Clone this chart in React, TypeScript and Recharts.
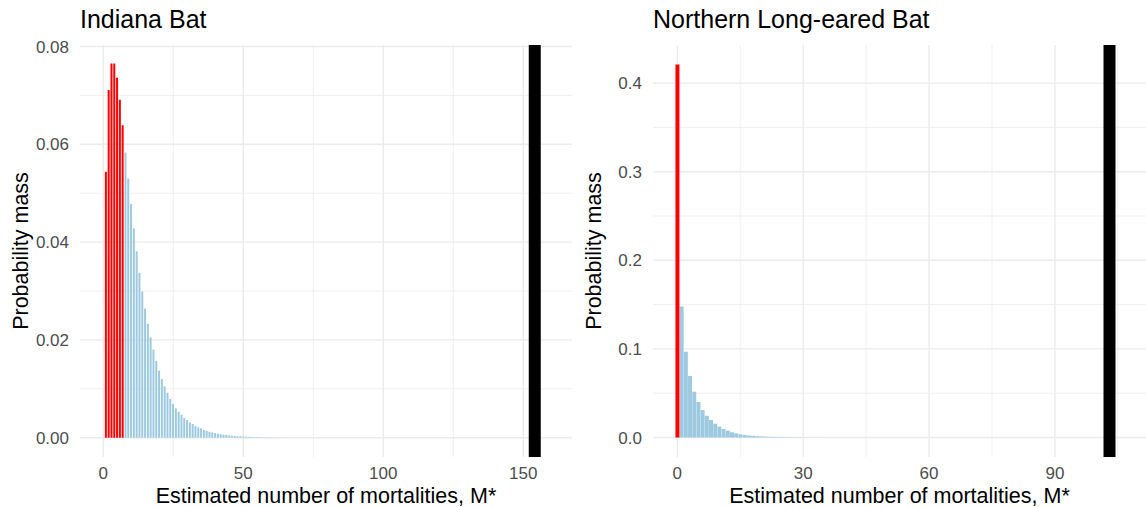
import React from 'react';
import { ComposedChart, Bar, XAxis, YAxis, CartesianGrid, ReferenceLine, Label } from 'recharts';

// ---------- Indiana Bat ----------
const indianaRedStart = 1;
const indianaRed = [0.0544, 0.0711, 0.0765, 0.0765, 0.0736, 0.0691, 0.0639];
const indianaBlueStart = 8;
const indianaBlue = [
  0.0583, 0.053, 0.0478, 0.0428, 0.0381, 0.0337, 0.0299, 0.0264, 0.0233, 0.0205,
  0.018, 0.0157, 0.0137, 0.012, 0.0105, 0.0092, 0.0079, 0.0069, 0.006, 0.0053,
  0.0047, 0.004, 0.0036, 0.0031, 0.0028, 0.0024, 0.0021, 0.0019, 0.0016, 0.0014,
  0.0012, 0.0011, 0.00095, 0.00083, 0.00072, 0.00063, 0.00055, 0.00048, 0.00042, 0.00036,
  0.00031, 0.00027, 0.00024, 0.00021, 0.00018, 0.00016, 0.00014, 0.00012, 0.0001, 0.00009,
  0.00008, 0.00007, 0.00006, 0.00005, 0.00004, 0.00003, 0.00003, 0.00002,
];
const indianaObserved = 154.1;
const indianaXTicks = [0, 50, 100, 150];
const indianaXMinor = [25, 75, 125];
const indianaYTicks = [0, 0.02, 0.04, 0.06, 0.08];
const indianaYMinor = [0.01, 0.03, 0.05, 0.07];
const indianaXDomain = [-8.32, 167.4];
const indianaYDomain = [-0.00395, 0.0803];

// ---------- Northern Long-eared Bat ----------
const nlebRedStart = 0;
const nlebRed = [0.421];
const nlebBlueStart = 1;
const nlebBlue = [
  0.148, 0.0968, 0.0694, 0.0517, 0.0401, 0.031, 0.0246, 0.0198, 0.0156, 0.0122,
  0.0096, 0.0077, 0.0059, 0.0047, 0.0036, 0.0029, 0.0023, 0.0019, 0.0015, 0.0012,
  0.001, 0.0008, 0.00065, 0.00052, 0.00042, 0.00034, 0.00027, 0.00022, 0.00018, 0.00014,
  0.00011, 0.00009, 0.00007, 0.00006, 0.00005,
];
const nlebObserved = 103;
const nlebXTicks = [0, 30, 60, 90];
const nlebXMinor = [15, 45, 75, 105];
const nlebYTicks = [0, 0.1, 0.2, 0.3, 0.4];
const nlebYMinor = [0.05, 0.15, 0.25, 0.35];
const nlebXDomain = [-5.79, 111.7];
const nlebYDomain = [-0.022, 0.443];

type Row = { m: number; red: number; blue: number };

function buildRows(redStart: number, red: number[], blueStart: number, blue: number[]): Row[] {
  const rows: Row[] = [];
  red.forEach((v, i) => rows.push({ m: redStart + i, red: v, blue: 0 }));
  blue.forEach((v, i) => rows.push({ m: blueStart + i, red: 0, blue: v }));
  rows.sort((a, b) => a.m - b.m);
  return rows;
}

const FONT = '"Liberation Sans", Arial, Helvetica, sans-serif';
const GRID = '#EBEBEB';

type PanelProps = {
  title: string;
  rows: Row[];
  xDomain: number[];
  yDomain: number[];
  xTicks: number[];
  xMinor: number[];
  yTicks: number[];
  yMinor: number[];
  observed: number;
  yDigits: number;
  left: number;
  rightMargin: number;
};

function Panel(p: PanelProps) {
  return (
    <div style={{ position: 'absolute', left: p.left, top: 0, width: 573, height: 507 }}>
      <div
        style={{
          position: 'absolute',
          left: 80,
          top: 7,
          fontSize: 25,
          lineHeight: '25px',
          color: '#000',
          fontFamily: FONT,
          whiteSpace: 'nowrap',
        }}
      >
        {p.title}
      </div>
      <ComposedChart
        width={573}
        height={507}
        data={p.rows}
        margin={{ top: 45, right: p.rightMargin, bottom: 0, left: 0 }}
        barCategoryGap="6%"
        style={{ fontFamily: FONT }}
      >
        <CartesianGrid
          stroke={GRID}
          strokeWidth={0.8}
          horizontalValues={p.yMinor}
          verticalValues={p.xMinor}
        />
        <CartesianGrid
          stroke={GRID}
          strokeWidth={1.4}
          horizontalValues={p.yTicks}
          verticalValues={p.xTicks}
        />
        <XAxis
          type="number"
          dataKey="m"
          domain={p.xDomain}
          ticks={p.xTicks}
          allowDataOverflow
          tickLine={false}
          axisLine={false}
          tickSize={0}
          tickMargin={10}
          height={50}
          tick={{ fill: '#4D4D4D', fontSize: 17 }}
          interval={0}
        >
          <Label
            value="Estimated number of mortalities, M*"
            position="insideBottom"
            offset={4}
            style={{ fill: '#000', fontSize: 21.5 }}
          />
        </XAxis>
        <YAxis
          type="number"
          domain={p.yDomain}
          ticks={p.yTicks}
          allowDataOverflow
          tickLine={false}
          axisLine={false}
          tickSize={0}
          tickMargin={11}
          width={80}
          interval={0}
          tick={{ fill: '#4D4D4D', fontSize: 17 }}
          tickFormatter={(v: number) => v.toFixed(p.yDigits)}
        >
          <Label
            value="Probability mass"
            angle={-90}
            position="insideLeft"
            offset={20}
            style={{ fill: '#000', fontSize: 21.5, textAnchor: 'middle' }}
          />
        </YAxis>
        <Bar dataKey="blue" stackId="s" fill="#9ECAE1" isAnimationActive={false} />
        <Bar dataKey="red" stackId="s" fill="#FF0000" isAnimationActive={false} />
        <ReferenceLine x={p.observed} stroke="#000" strokeWidth={12} />
      </ComposedChart>
    </div>
  );
}

export default function App() {
  const indianaRows = buildRows(indianaRedStart, indianaRed, indianaBlueStart, indianaBlue);
  const nlebRows = buildRows(nlebRedStart, nlebRed, nlebBlueStart, nlebBlue);
  return (
    <div style={{ position: 'absolute', left: 0, top: 0, width: 1146, height: 507, background: '#fff', overflow: 'hidden' }}>
      <Panel
        title="Indiana Bat"
        rows={indianaRows}
        xDomain={indianaXDomain}
        yDomain={indianaYDomain}
        xTicks={indianaXTicks}
        xMinor={indianaXMinor}
        yTicks={indianaYTicks}
        yMinor={indianaYMinor}
        observed={indianaObserved}
        yDigits={2}
        left={0}
        rightMargin={1}
      />
      <Panel
        title="Northern Long-eared Bat"
        rows={nlebRows}
        xDomain={nlebXDomain}
        yDomain={nlebYDomain}
        xTicks={nlebXTicks}
        xMinor={nlebXMinor}
        yTicks={nlebYTicks}
        yMinor={nlebYMinor}
        observed={nlebObserved}
        yDigits={1}
        left={573}
        rightMargin={0}
      />
    </div>
  );
}
